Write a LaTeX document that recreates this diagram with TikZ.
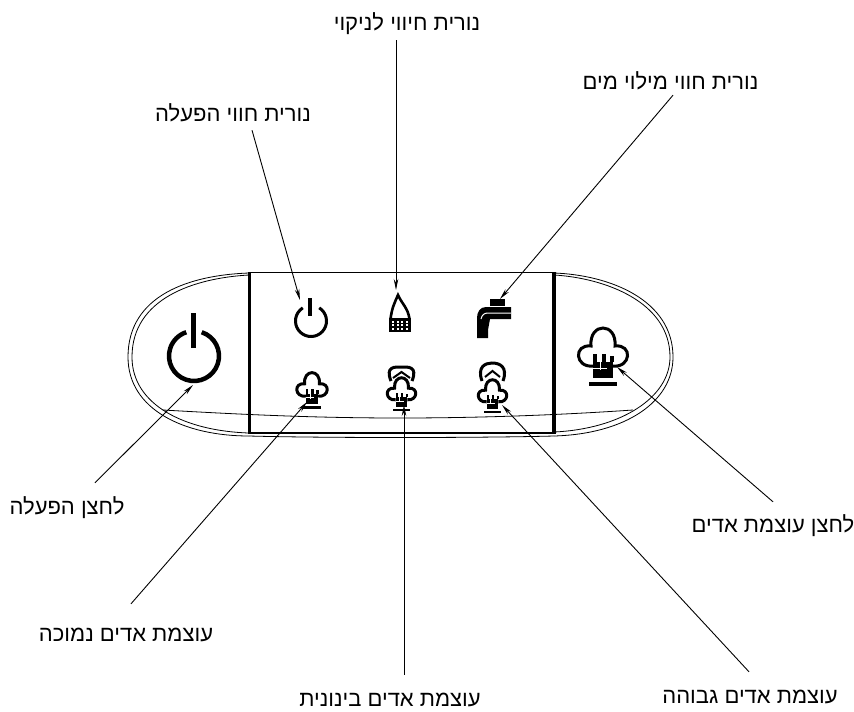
\documentclass[tikz,border=0pt]{standalone}
\usepackage{fontspec}
\usepackage{xcolor}
\usetikzlibrary{arrows.meta}
\TeXXeTstate=1
\newfontfamily\hebfont[Script=Hebrew]{Liberation Sans}
\newcommand{\heb}[1]{\hebfont\beginR #1\endR}
\tikzset{
    labeltext/.style={inner sep=0pt, text height=18pt, text depth=2pt, font=\fontsize{22}{24}\selectfont},
    lead/.style={line width=0.9pt, -{Stealth[length=11pt,width=4.5pt]}},
    panel/.style={line width=0.8pt},
    icon/.style={line width=3pt}
}
% steam cloud with a cup under it, #3 is its size
\newcommand{\steamicon}[3]{
    \begin{scope}[shift={(#1,#2)},scale=#3]
        \draw[icon] (-10,10) .. controls (-28,12) and (-30,-12) .. (-12,-10)
            .. controls (-14,-34) and (14,-34) .. (12,-10)
            .. controls (30,-12) and (28,12) .. (10,10);
        \fill (-10,6) rectangle (10,22);
        \fill (-10,-2) rectangle (-6,6);
        \fill (-1,-2) rectangle (3,6);
        \fill (7,0) rectangle (11,6);
        \draw[white, line width=0.6pt] (-3,2) -- (-3,14) (-10,12) -- (4,12);
        \fill (-14,26) rectangle (14,30);
    \end{scope}
}
\begin{document}
\begin{tikzpicture}[x=1pt,y=-1pt]
    \useasboundingbox (0,0) rectangle (854,712);
    \fill[white] (0,0) rectangle (854,712);

    % Outer shell, doubled line
    \draw[panel] (249,273) .. controls (190,275) and (128,295) .. (128,357) .. controls (128,410) and (185,436) .. (249,436);
    \draw[panel] (249,275) .. controls (195,278) and (132,298) .. (132,357) .. controls (132,405) and (185,431) .. (249,433);
    \draw[panel] (554,273) .. controls (610,275) and (673,300) .. (673,357) .. controls (673,402) and (625,434) .. (554,436);
    \draw[panel] (554,275) .. controls (605,278) and (670,302) .. (670,357) .. controls (670,398) and (620,429) .. (554,432);

    % Lower curved seam
    \draw[panel] (163,410) .. controls (250,415) and (320,418) .. (400,418) .. controls (480,418) and (560,415) .. (633,410);
    \draw[panel] (249,436) .. controls (320,438) and (480,438) .. (554,436);

    % Centre window
    \draw[line width=1.2pt] (249,272.5) -- (554,272.5);
    \draw[line width=2.4pt] (249,433) -- (554,433);
    \draw[line width=2.8pt] (249.5,272) -- (249.5,434);
    \draw[line width=4.4pt] (554,272) -- (554,434);

    % Big power button
    \draw[line width=4.5pt] (194,356) ++(-72:25) arc[start angle=-72, end angle=252, radius=25];
    \draw[line width=5pt] (193.5,313) -- (193.5,348);

    % Small power lamp
    \draw[icon] (311,321) ++(-58:15.5) arc[start angle=-58, end angle=238, radius=15.5];
    \draw[line width=4.5pt] (310,298) -- (310,316);

    % Cleaning lamp
    \draw[line width=2.6pt] (390.5,319) .. controls (392,308) and (394,304) .. (398,295) .. controls (402,304) and (408,308) .. (409.5,319);
    \fill (389,318) rectangle (411,332);
    \foreach \i in {393,397.5,402,406.5}
        \foreach \j in {321.5,325,328.5}
            \fill[white] (\i-1,\j-1) rectangle (\i+1,\j+1);

    % Water fill tap
    \fill (490,299) rectangle (505,306);
    \fill (511,307) -- (486,307) .. controls (480,307) and (477,312) .. (477,318) -- (477,338) -- (488,338) -- (488,330) -- (490,319) -- (511,319) -- cycle;
    \draw[white, line width=1pt] (481,319) .. controls (482,315) and (484,313) .. (488,313) -- (511,313);

    % Steam level lamps
    \steamicon{312}{390}{0.62}
    \steamicon{401.5}{394}{0.58}
    \steamicon{492.5}{396}{0.58}
    \draw[icon] (391,381) .. controls (385,366) and (395,367) .. (401.5,367) .. controls (408,367) and (418,366) .. (412,381);
    \draw[line width=2pt] (393,378) -- (401.5,372) -- (410,378);
    \draw[icon] (482,381) .. controls (477,367) and (485,363) .. (492,363) .. controls (500,363) and (508,367) .. (503,381);
    \draw[line width=2pt] (485,377) -- (492.5,371) -- (500,377);

    % Steam button
    \steamicon{603}{356}{1}

    % Labels
    \node[labeltext] (ledclean) at (407,22) {\heb{נורית חיווי לניקוי}};
    \node[labeltext] (ledfill) at (670.5,81) {\heb{נורית חווי מילוי מים}};
    \node[labeltext] (ledpower) at (233,113) {\heb{נורית חווי הפעלה}};
    \node[labeltext] (btnpower) at (67,506) {\heb{לחצן הפעלה}};
    \node[labeltext] (btnsteam) at (773,524) {\heb{לחצן עוצמת אדים}};
    \node[labeltext] (steamlow) at (126,633) {\heb{עוצמת אדים נמוכה}};
    \node[labeltext] (steammid) at (390,698) {\heb{עוצמת אדים בינונית}};
    \node[labeltext] (steamhigh) at (750,695) {\heb{עוצמת אדים גבוהה}};

    % Ends of the leaders
    \coordinate (tipclean) at (396,290);
    \coordinate (tipfill) at (500,299);
    \coordinate (tipled) at (300,300);
    \coordinate (tippower) at (193,385);
    \coordinate (tipsteam) at (617,367);
    \coordinate (tiplow) at (307,402);
    \coordinate (tipmid) at (404,405);
    \coordinate (tiphigh) at (502,405);

    \draw[lead] (ledclean.south) ++(-11,8) -- (tipclean);
    \draw[lead] (ledfill.south) ++(2.5,4) -- (tipfill);
    \draw[lead] (ledpower.south) ++(19,7) -- (tipled);
    \draw[lead] (btnpower.north) ++(28,-13) -- (tippower);
    \draw[lead] (btnsteam.north) ++(0,-12) -- (tipsteam);
    \draw[lead] (steamlow.north) ++(5,-19) -- (tiplow);
    \draw[lead] (steammid.north) ++(14,-13) -- (tipmid);
    \draw[lead] (steamhigh.north) ++(-1,-13) -- (tiphigh);
\end{tikzpicture}
\end{document}
